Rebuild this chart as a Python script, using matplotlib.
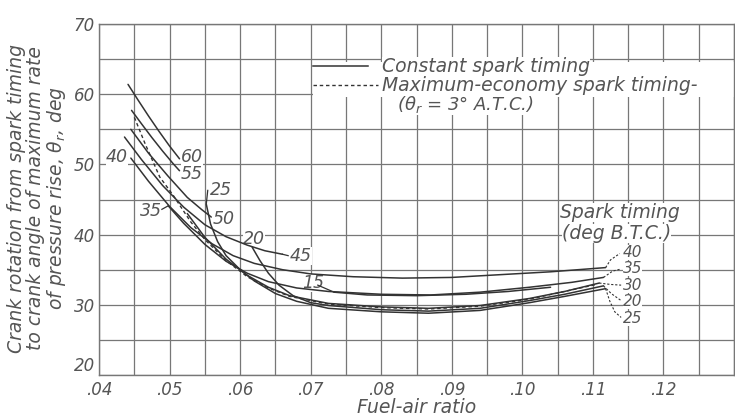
import numpy as np
import matplotlib
matplotlib.use("Agg")
import matplotlib.pyplot as plt
from matplotlib.patches import Rectangle

# ---------------- data ----------------
# constant spark timing curves: spark advance (deg B.T.C.) -> (fuel-air ratio, theta_r)
fa_60 = [0.0441, 0.0455, 0.0470, 0.0485, 0.0500, 0.0514]
th_60 = [61.4, 59.2, 56.9, 54.7, 52.6, 50.8]

fa_55 = [0.0446, 0.0460, 0.0475, 0.0490, 0.0505, 0.0514]
th_55 = [57.7, 55.8, 53.8, 51.9, 50.1, 49.1]

fa_50 = [0.0445, 0.0470, 0.0498, 0.0525, 0.0545, 0.0559]
th_50 = [55.0, 51.6, 48.3, 45.3, 43.6, 42.5]

fa_45 = [0.0436, 0.0460, 0.0490, 0.0520, 0.0550, 0.0580, 0.0610, 0.0635, 0.0660]
th_45 = [53.9, 50.7, 47.0, 43.9, 41.4, 39.7, 38.5, 37.7, 37.2]

fa_40 = [0.0445, 0.0470, 0.0500, 0.0530, 0.0560, 0.0590, 0.0620, 0.0660, 0.0700,
         0.0760, 0.0830, 0.0900, 0.0970, 0.1040, 0.1118]
th_40 = [50.9, 47.6, 44.0, 41.0, 38.7, 37.0, 35.9, 35.0, 34.4,
         34.0, 33.8, 33.9, 34.3, 34.7, 35.3]

fa_35 = [0.0498, 0.0520, 0.0550, 0.0580, 0.0610, 0.0640, 0.0680, 0.0725, 0.0800,
         0.0870, 0.0940, 0.1010, 0.1070, 0.1115]
th_35 = [44.1, 41.6, 38.6, 36.2, 34.5, 33.3, 32.4, 31.9, 31.5,
         31.4, 31.8, 32.5, 33.2, 33.9]

fa_30 = [0.0525, 0.0550, 0.0580, 0.0610, 0.0640, 0.0670, 0.0725, 0.0800, 0.0867,
         0.0940, 0.1010, 0.1060, 0.1109]
th_30 = [43.0, 39.6, 36.5, 34.2, 32.5, 31.3, 30.2, 29.7, 29.5,
         29.9, 30.9, 31.9, 33.1]

fa_25 = [0.0552, 0.0558, 0.0568, 0.0580, 0.0600, 0.0620, 0.0650, 0.0680, 0.0725,
         0.0800, 0.0867, 0.0940, 0.1010, 0.1060, 0.1118]
th_25 = [44.3, 41.5, 39.0, 37.0, 35.0, 33.4, 31.6, 30.5, 29.5,
         29.0, 28.8, 29.2, 30.3, 31.2, 32.3]

fa_20 = [0.0617, 0.0628, 0.0640, 0.0655, 0.0675, 0.0700, 0.0725, 0.0800, 0.0867,
         0.0940, 0.1010, 0.1060, 0.1115]
th_20 = [38.2, 36.3, 34.5, 32.8, 31.3, 30.3, 29.9, 29.3, 29.1,
         29.5, 30.6, 31.5, 32.7]

fa_15 = [0.0733, 0.0780, 0.0850, 0.0920, 0.0980, 0.1040]
th_15 = [31.8, 31.4, 31.3, 31.5, 31.9, 32.5]

# maximum-economy spark timing (theta_r = 3 deg A.T.C.)
fa_econ = [0.0450, 0.0465, 0.0486, 0.0505, 0.0530, 0.0550, 0.0580, 0.0610, 0.0640,
           0.0670, 0.0725, 0.0800, 0.0867, 0.0940, 0.1010, 0.1105]
th_econ = [56.7, 53.0, 48.2, 45.6, 41.8, 39.3, 36.3, 34.0, 32.4,
           31.2, 30.1, 29.6, 29.4, 29.8, 30.8, 32.9]

x_ticks = [0.04, 0.05, 0.06, 0.07, 0.08, 0.09, 0.10, 0.11, 0.12]
x_tick_labels = [".04", ".05", ".06", ".07", ".08", ".09", ".10", ".11", ".12"]
y_ticks = [20, 30, 40, 50, 60, 70]
y_tick_labels = ["20", "30", "40", "50", "60", "70"]

# ---------------- style ----------------
LINE = "#333333"
GRID = "#777777"
TXT = "#555555"
FS = 12.0      # numbers
FSB = 13.5     # words
plt.rcParams["font.family"] = ["DejaVu Sans"]
plt.rcParams["mathtext.fontset"] = "dejavusans"

fig = plt.figure(figsize=(7.35, 4.15), dpi=100)
W, H = 735.0, 415.0
L, R, T, B = 99.1, 734.0, 24.0, 375.0
ax = fig.add_axes([L / W, 1 - B / H, (R - L) / W, (B - T) / H])
ax.set_xlim(0.04, 0.13)
ax.set_ylim(20, 70)

# grid
ax.set_xticks(np.arange(0.04, 0.1301, 0.005), minor=True)
ax.set_yticks(np.arange(20, 70.1, 5), minor=True)
ax.set_xticks(x_ticks)
ax.set_xticklabels(x_tick_labels)
ax.set_yticks(y_ticks)
ax.set_yticklabels(y_tick_labels)
ax.grid(True, which="both", color=GRID, lw=0.9)
ax.set_axisbelow(True)
ax.tick_params(which="both", length=0, labelsize=FS, labelcolor=TXT)
ax.tick_params(axis="x", pad=4)
ax.tick_params(axis="y", pad=3)
for lab in ax.get_xticklabels() + ax.get_yticklabels():
    lab.set_fontstyle("italic")
ax.get_yticklabels()[0].set_va("bottom")
for s in ax.spines.values():
    s.set_color(GRID)
    s.set_linewidth(1.0)

curves = [(fa_60, th_60), (fa_55, th_55), (fa_50, th_50), (fa_45, th_45),
          (fa_40, th_40), (fa_35, th_35), (fa_30, th_30), (fa_25, th_25),
          (fa_20, th_20), (fa_15, th_15)]
for fa, th in curves:
    ax.plot(fa, th, color=LINE, lw=1.1, zorder=3, solid_capstyle="round")
ax.plot(fa_econ, th_econ, color=LINE, lw=1.0, ls=(0, (2.5, 2)), zorder=3)

tkw = dict(fontsize=12.5, color=TXT, fontstyle="italic", zorder=2,
           bbox=dict(facecolor="white", edgecolor="none", pad=0.0))

# left-hand curve labels
ax.text(0.0516, 51.0, "60", ha="left", va="center", **tkw)
ax.text(0.0516, 48.6, "55", ha="left", va="center", **tkw)
ax.text(0.0557, 46.4, "25", ha="left", va="center", **tkw)
ax.plot([0.0552, 0.0554], [44.4, 46.3], color=LINE, lw=0.9, zorder=3)
ax.text(0.0561, 42.2, "50", ha="left", va="center", **tkw)
ax.text(0.0604, 39.4, "20", ha="left", va="center", **tkw)
ax.text(0.0670, 36.9, "45", ha="left", va="center", **tkw)
ax.plot([0.0660, 0.0668], [37.2, 37.0], color=LINE, lw=0.9, zorder=3)
ax.text(0.0688, 33.1, "15", ha="left", va="center", **tkw)
ax.plot([0.0710, 0.0733], [32.8, 31.8], color=LINE, lw=0.9, zorder=3)
ax.text(0.0441, 51.0, "40", ha="right", va="center", **tkw)
ax.text(0.0489, 43.4, "35", ha="right", va="center", **tkw)
ax.plot([0.0489, 0.0498], [43.6, 44.1], color=LINE, lw=0.9, zorder=3)

# right-hand labels with dashed leaders
dkw = dict(color=LINE, lw=0.8, ls=(0, (2, 1.6)), zorder=3)
ax.plot([0.1118, 0.1125, 0.1138], [35.3, 36.4, 37.3], **dkw)
ax.plot([0.1115, 0.1128, 0.1140], [33.9, 34.8, 35.1], **dkw)
ax.plot([0.1109, 0.1125, 0.1140], [33.1, 32.9, 32.8], **dkw)
ax.plot([0.1115, 0.1126, 0.1140], [32.7, 31.6, 30.6], **dkw)
ax.plot([0.1118, 0.1124, 0.1131, 0.1140], [32.3, 30.5, 29.0, 28.2], **dkw)
rkw = dict(tkw)
rkw["fontsize"] = 11
for y, s in [(37.4, "40"), (35.1, "35"), (32.8, "30"), (30.5, "20"), (28.1, "25")]:
    ax.text(0.1142, y, s, ha="left", va="center", **rkw)
wkw = dict(tkw)
wkw["fontsize"] = 13.5
ax.text(0.1053, 43.2, "Spark timing", ha="left", va="center", **wkw)
ax.text(0.1056, 40.2, "(deg B.T.C.)", ha="left", va="center", **wkw)

# legend
ax.add_patch(Rectangle((0.0703, 59.6), 0.06, 5.0, facecolor="white",
                       edgecolor="none", zorder=1))
ax.plot([0.0703, 0.0781], [64.0, 64.0], color=LINE, lw=1.1, zorder=3)
ax.plot([0.0703, 0.0795], [61.3, 61.3], color=LINE, lw=1.0, ls=(0, (2.5, 2)), zorder=3)
lkw = dict(tkw)
lkw["fontsize"] = FSB
ax.text(0.0801, 64.0, "Constant spark timing", ha="left", va="center", **lkw)
ax.text(0.0801, 61.3, "Maximum-economy spark timing-", ha="left", va="center", **lkw)
lkw["fontsize"] = 13
ax.text(0.0822, 58.6, r"($\theta_r$ = 3° A.T.C.)", ha="left", va="center", **lkw)

# axis titles
fig.text(417 / W, 1 - 407 / H, "Fuel-air ratio", ha="center", va="center",
         fontsize=FSB, color=TXT, fontstyle="italic")
ylines = ["Crank rotation from spark timing",
          "to crank angle of maximum rate",
          r"of pressure rise, $\theta_r$, deg"]
for xpx, s in zip([17, 36, 56], ylines):
    fig.text(xpx / W, 1 - 198 / H, s, rotation=90, ha="center", va="center",
             fontsize=FSB, color=TXT, fontstyle="italic")

fig.savefig("out.png", dpi=100, facecolor="white")
